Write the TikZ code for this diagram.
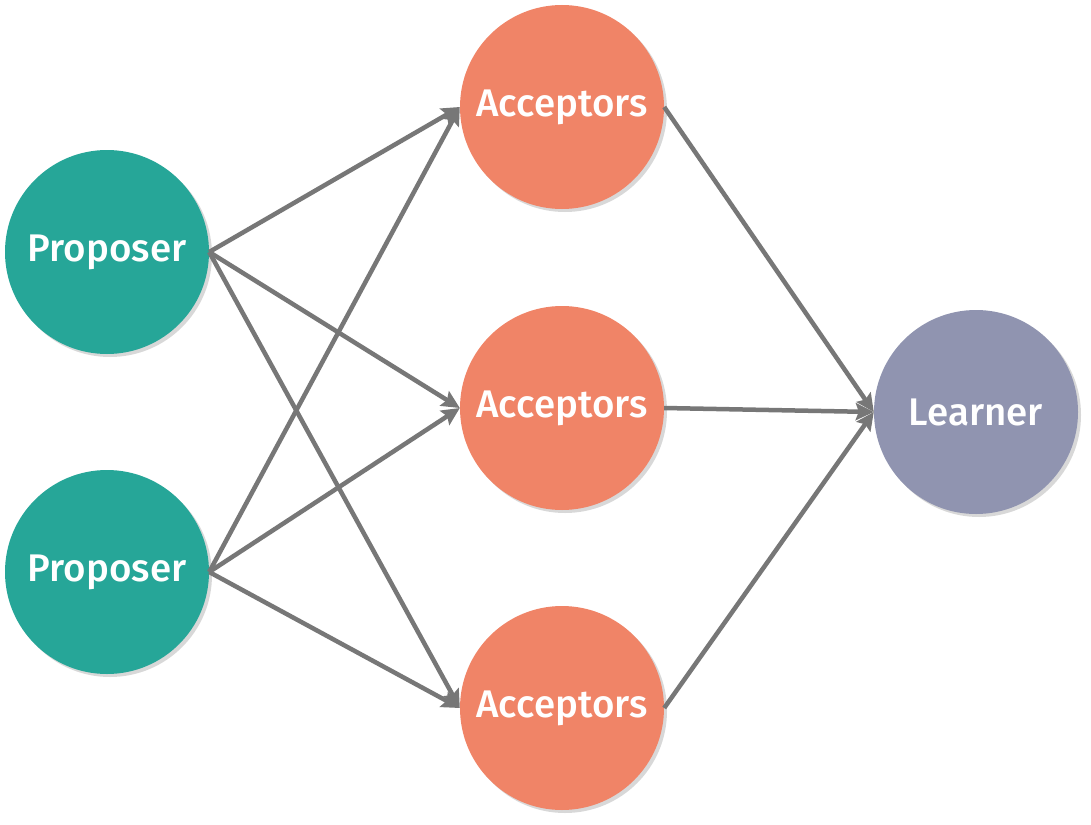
\documentclass[tikz,border=0pt]{standalone}
\usepackage{fontspec}
\setmainfont{Fira Sans}[UprightFont={* Medium}]
\usetikzlibrary{arrows.meta,positioning,shadows}

\definecolor{propcol}{HTML}{26A698}
\definecolor{acccol}{HTML}{F08467}
\definecolor{learncol}{HTML}{9094B0}
\definecolor{edgecol}{HTML}{777777}

\begin{document}
\begin{tikzpicture}[
  x=1pt, y=-1pt,
  role/.style={circle, minimum size=204pt, inner sep=0pt, text=white,
    font=\fontsize{38.5}{42}\selectfont,
    drop shadow={shadow xshift=3pt, shadow yshift=-3pt, opacity=0.3}},
  msg/.style={draw=edgecol, line width=4.5pt, -{Stealth[length=18pt, width=17pt, inset=3pt]}},
  >=Stealth
]
  \useasboundingbox[fill=white] (0,0) rectangle (1091,824);

  \node[role, fill=propcol]  (prop1) at (107,252) {Proposer};
  \node[role, fill=propcol]  (prop2) at (107,572) {Proposer};
  \node[role, fill=acccol]   (acc1)  at (562,107) {Acceptors};
  \node[role, fill=acccol]   (acc2)  at (562,408) {Acceptors};
  \node[role, fill=acccol]   (acc3)  at (562,708) {Acceptors};
  \node[role, fill=learncol] (learn) at (976,412) {Learner};

  \foreach \p in {prop1,prop2}
    \foreach \a in {acc1,acc2,acc3}
      \draw[msg] (\p.east) -- (\a.west);

  \foreach \a in {acc1,acc2,acc3}
    \draw[msg] (\a.east) -- (learn.west);
\end{tikzpicture}
\end{document}
